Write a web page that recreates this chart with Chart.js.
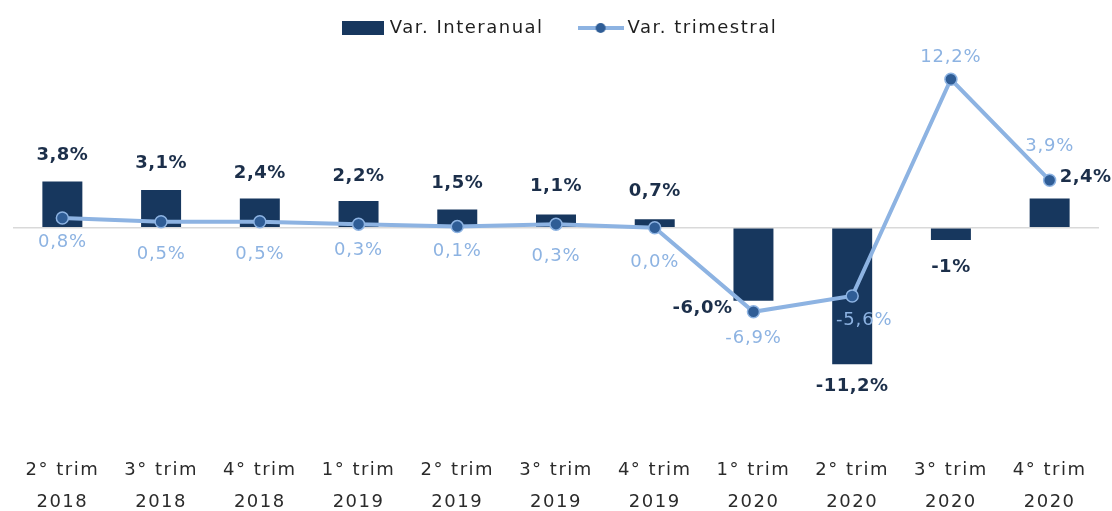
<!DOCTYPE html>
<html>
<head>
<meta charset="utf-8">
<script src="https://cdn.jsdelivr.net/npm/chart.js@4.4.0/dist/chart.umd.min.js"></script>
<style>
  html, body { margin: 0; padding: 0; background: #ffffff; }
  #wrap { width: 1112px; height: 511px; position: relative; }
</style>
</head>
<body>
<div id="wrap"><canvas id="c" width="1112" height="511"></canvas></div>
<script>
const categories = [
  ['2° trim', '2018'], ['3° trim', '2018'], ['4° trim', '2018'],
  ['1° trim', '2019'], ['2° trim', '2019'], ['3° trim', '2019'], ['4° trim', '2019'],
  ['1° trim', '2020'], ['2° trim', '2020'], ['3° trim', '2020'], ['4° trim', '2020']
];
const interanual = [3.8, 3.1, 2.4, 2.2, 1.5, 1.1, 0.7, -6.0, -11.2, -1, 2.4];
const trimestral = [0.8, 0.5, 0.5, 0.3, 0.1, 0.3, 0.0, -6.9, -5.6, 12.2, 3.9];
const interanualLabels = ['3,8%', '3,1%', '2,4%', '2,2%', '1,5%', '1,1%', '0,7%', '-6,0%', '-11,2%', '-1%', '2,4%'];
const trimestralLabels = ['0,8%', '0,5%', '0,5%', '0,3%', '0,1%', '0,3%', '0,0%', '-6,9%', '-5,6%', '12,2%', '3,9%'];

const BAR_COLOR = '#17375e';
const LINE_COLOR = '#8db3e2';
const POINT_COLOR = '#2f5d96';
const FONT = '"DejaVu Sans", Verdana, sans-serif';
const SPACING = '1.5px';

// label placement (style): offsets in px relative to mark
const barLabelPlace = [
  {dy:-26},{dy:-27},{dy:-25},{dy:-25},{dy:-26},{dy:-28},{dy:-28},
  {dx:-21, dy:7, align:'right'},{dy:22},{dy:27},{dx:10, dy:-21, align:'left'}
];
const lineLabelPlace = [
  {dy:24},{dy:33},{dy:33},{dy:26},{dy:25},{dy:32},{dy:35},{dy:26},{dx:12, dy:24},{dy:-22},{dy:-34}
];

function makeRectIcon() {
  const c = document.createElement('canvas');
  c.width = 42; c.height = 14;
  const g = c.getContext('2d');
  g.fillStyle = BAR_COLOR; g.fillRect(0, 0, 42, 14);
  return c;
}
function makeLineIcon() {
  const c = document.createElement('canvas');
  c.width = 46; c.height = 14;
  const g = c.getContext('2d');
  g.strokeStyle = LINE_COLOR; g.lineWidth = 4;
  g.beginPath(); g.moveTo(0, 7); g.lineTo(46, 7); g.stroke();
  g.fillStyle = POINT_COLOR;
  g.beginPath(); g.arc(23, 7, 5, 0, Math.PI * 2); g.fill();
  return c;
}
const rectIcon = makeRectIcon();
const lineIcon = makeLineIcon();

const spacingPlugin = {
  id: 'spacing',
  beforeUpdate(chart) { chart.ctx.letterSpacing = SPACING; },
  beforeLayout(chart) { chart.ctx.letterSpacing = SPACING; },
  afterLayout(chart) {
    if (chart.legend) { chart.legend.left += 5; chart.legend.right += 5; }
  },
  beforeDraw(chart) { chart.ctx.letterSpacing = SPACING; }
};

const labelPlugin = {
  id: 'valueLabels',
  afterDatasetsDraw(chart) {
    const ctx = chart.ctx;
    ctx.save();
    const barMeta = chart.getDatasetMeta(1);
    ctx.font = 'bold 18px ' + FONT;
    ctx.letterSpacing = '0.5px';
    ctx.fillStyle = '#1c2f4a';
    barMeta.data.forEach((el, i) => {
      const p = barLabelPlace[i] || {};
      const v = interanual[i];
      const edgeY = v >= 0 ? Math.min(el.y, el.base) : Math.max(el.y, el.base);
      ctx.textAlign = p.align || 'center';
      ctx.textBaseline = 'middle';
      ctx.fillText(interanualLabels[i], el.x + (p.dx || 0), edgeY + (p.dy || 0));
    });
    const lineMeta = chart.getDatasetMeta(0);
    ctx.font = '18px ' + FONT;
    ctx.letterSpacing = '0.8px';
    ctx.fillStyle = LINE_COLOR;
    lineMeta.data.forEach((el, i) => {
      const p = lineLabelPlace[i] || {};
      ctx.textAlign = 'center';
      ctx.textBaseline = 'middle';
      ctx.fillText(trimestralLabels[i], el.x + (p.dx || 0), el.y + (p.dy || 0));
    });
    ctx.restore();
    ctx.letterSpacing = SPACING;
  }
};

new Chart(document.getElementById('c'), {
  data: {
    labels: categories,
    datasets: [
      {
        type: 'line',
        label: 'Var. trimestral',
        data: trimestral,
        borderColor: LINE_COLOR,
        borderWidth: 4,
        pointRadius: 6,
        pointBackgroundColor: POINT_COLOR,
        pointBorderColor: LINE_COLOR,
        pointBorderWidth: 1.5,
        tension: 0,
        order: 0
      },
      {
        type: 'bar',
        label: 'Var. Interanual',
        data: interanual,
        backgroundColor: BAR_COLOR,
        borderWidth: 0,
        categoryPercentage: 1,
        barPercentage: 0.405,
        order: 1
      }
    ]
  },
  options: {
    responsive: false,
    animation: false,
    layout: { padding: { left: 13, right: 13, top: -20, bottom: -11 } },
    plugins: {
      tooltip: { enabled: false },
      legend: {
        position: 'top',
        labels: {
          usePointStyle: true,
          pointStyleWidth: 36,
          boxHeight: 14,
          padding: 39,
          color: '#1f1f1f',
          font: { family: FONT, size: 18 },
          generateLabels(chart) {
            return [
              { text: 'Var. Interanual', pointStyle: rectIcon, datasetIndex: 1, fillStyle: BAR_COLOR, strokeStyle: BAR_COLOR, lineWidth: 0, hidden: false, fontColor: '#1f1f1f' },
              { text: 'Var. trimestral', pointStyle: lineIcon, datasetIndex: 0, fillStyle: LINE_COLOR, strokeStyle: LINE_COLOR, lineWidth: 0, hidden: false, fontColor: '#1f1f1f' }
            ];
          }
        }
      }
    },
    scales: {
      x: {
        grid: { display: false, drawTicks: false },
        border: { display: false },
        ticks: {
          color: '#2b2b2b',
          font: { family: FONT, size: 18, lineHeight: 1.75 },
          padding: 4,
          maxRotation: 0,
          autoSkip: false
        }
      },
      y: {
        min: -18.33,
        max: 14.85,
        border: { display: false },
        ticks: { display: false },
        grid: {
          drawTicks: false,
          lineWidth: 1.5,
          color: (c) => (c.tick && c.tick.value === 0 ? '#d9d9d9' : 'rgba(0,0,0,0)')
        }
      }
    }
  },
  plugins: [spacingPlugin, labelPlugin]
});
</script>
</body>
</html>
